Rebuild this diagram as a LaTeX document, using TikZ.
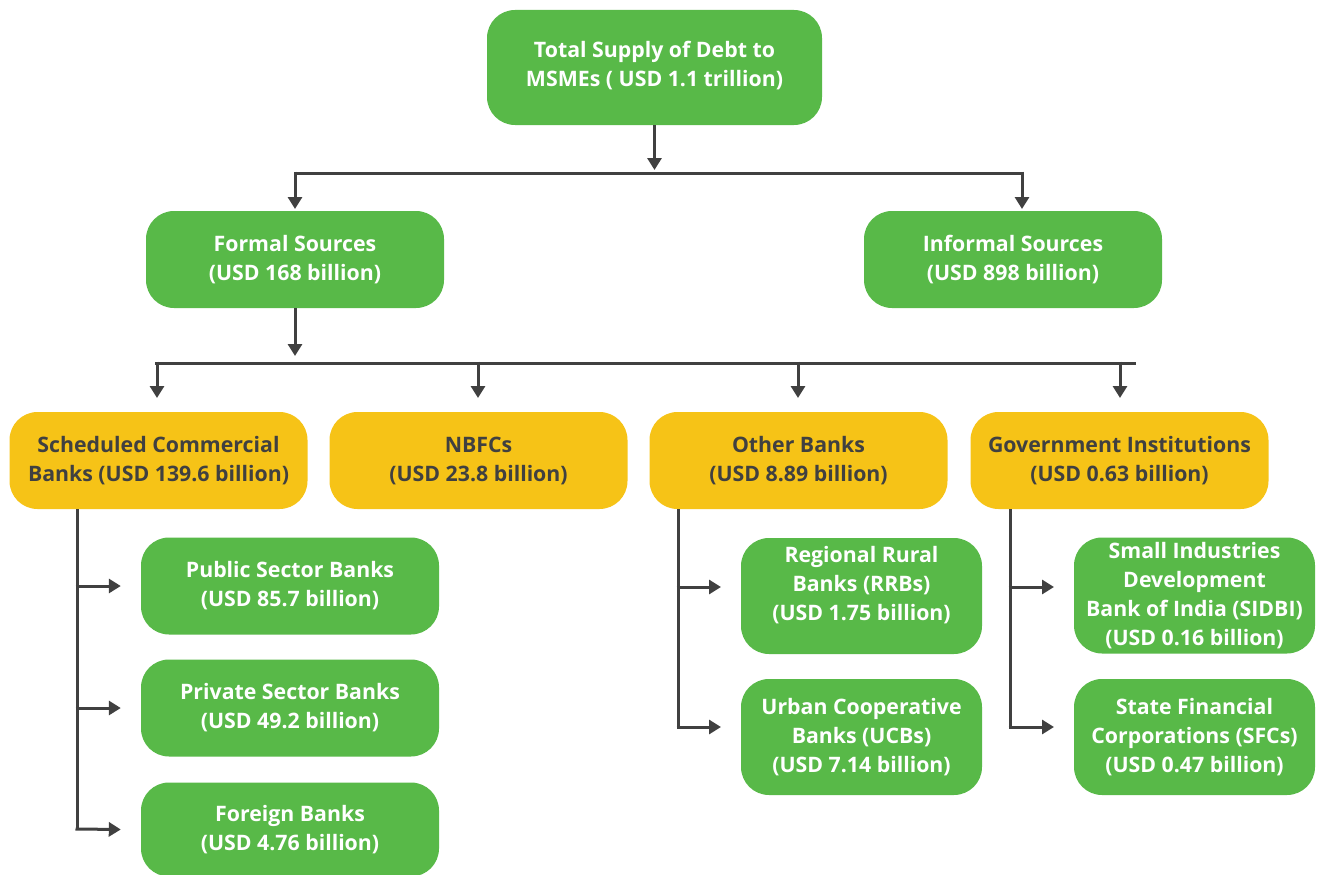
\documentclass[tikz,border=0pt]{standalone}
\usepackage{fontspec}
\setmainfont{Open Sans}
\usepackage{xcolor}
\usepackage{tikz}
\usetikzlibrary{arrows.meta, positioning, calc}
\definecolor{mygreen}{RGB}{88,185,72}
\definecolor{myamber}{RGB}{246,195,23}
\definecolor{mydark}{RGB}{64,64,64}
\tikzset{
  greenbox/.style={rectangle, fill=mygreen, text=white, align=center,
    minimum width=298pt, minimum height=97pt, inner sep=0pt,
    font=\bfseries\fontsize{21.3}{29}\selectfont, rounded corners=28pt},
  amberbox/.style={greenbox, fill=myamber, text=mydark},
  arrow/.style={-{Triangle[width=14pt,length=12pt]}, line width=3pt, color=mydark},
  line/.style={line width=3pt, color=mydark}
}

\begin{document}
\begin{tikzpicture}[x=1pt, y=-1pt]
  \useasboundingbox (0,0) rectangle (1318,875);

  % top levels
  \node[greenbox, minimum width=335pt, minimum height=115pt, text depth=7pt] (total) at (654.5,67.5) {Total Supply of Debt to\\MSMEs ( USD 1.1 trillion)};
  \node[greenbox] (formal) at (295,259.5) {Formal Sources\\(USD 168 billion)};
  \node[greenbox] (informal) at (1013,259.5) {Informal Sources\\(USD 898 billion)};

  % formal sources
  \node[amberbox] (scb) at (158.5,460.5) {Scheduled Commercial\\Banks (USD 139.6 billion)};
  \node[amberbox] (nbfc) at (478.5,460.5) {NBFCs\\(USD 23.8 billion)};
  \node[amberbox] (other) at (798.5,460.5) {Other Banks\\(USD 8.89 billion)};
  \node[amberbox] (govt) at (1119.5,460.5) {Government Institutions\\(USD 0.63 billion)};

  \node[greenbox] (public) at (290,586) {Public Sector Banks\\(USD 85.7 billion)};
  \node[greenbox] (private) at (290,708) {Private Sector Banks\\(USD 49.2 billion)};
  \node[greenbox, minimum height=94pt] (foreign) at (290,829.5) {Foreign Banks\\(USD 4.76 billion)};

  \node[greenbox, minimum width=241pt, minimum height=116pt, text depth=25pt] (rrb) at (861.5,596) {Regional Rural\\Banks (RRBs)\\(USD 1.75 billion)};
  \node[greenbox, minimum width=241pt, minimum height=116pt] (ucb) at (861.5,737) {Urban Cooperative\\Banks (UCBs)\\(USD 7.14 billion)};
  \node[greenbox, minimum width=241pt, minimum height=116pt] (sidbi) at (1194.5,595.5) {Small Industries\\Development\\Bank of India (SIDBI)\\(USD 0.16 billion)};
  \node[greenbox, minimum width=241pt, minimum height=116pt] (sfc) at (1194.5,737) {State Financial\\Corporations (SFCs)\\(USD 0.47 billion)};

  % bus lines
  \coordinate (busA) at (654.5,173);
  \coordinate (busAl) at (295,173);
  \coordinate (busAr) at (1022,173);
  \coordinate (busB) at (295,363);
  \coordinate (busBl) at (155,363);
  \coordinate (busBr) at (1136,363);

  \draw[arrow] (total.south) -- ($(busA)+(0,-3)$);
  \draw[line] (busAl) -- (busAr);
  \draw[arrow] ($(busAl)+(0,-1.5)$) -- (busAl |- 0,209);
  \draw[arrow] ($(busAr)+(0,-1.5)$) -- (busAr |- 0,209);

  \draw[arrow] (formal.south) -- ($(busB)+(0,-7)$);
  \draw[line] (busBl) -- (busBr);
  \draw[arrow] (157,361.5) -- (157,398);
  \draw[arrow] (478,361.5) -- (478,398);
  \draw[arrow] (798,361.5) -- (798,398);
  \draw[arrow] (1120,361.5) -- (1120,398);

  % branches
  \draw[line] (77,509) -- (77,829);
  \draw[arrow] (75.5,586) -- ($(public.west)+(-20,0)$);
  \draw[arrow] (75.5,708) -- ($(private.west)+(-20,0)$);
  \draw[arrow] (75.5,829) -- ($(foreign.west)+(-20,0)$);

  \draw[line] (678,509) -- (678,727);
  \draw[arrow] (676.5,587) -- (721,587);
  \draw[arrow] (676.5,727) -- (721,727);

  \draw[line] (1010,509) -- (1010,727);
  \draw[arrow] (1008.5,587) -- (1054,587);
  \draw[arrow] (1008.5,727) -- (1054,727);
\end{tikzpicture}
\end{document}
